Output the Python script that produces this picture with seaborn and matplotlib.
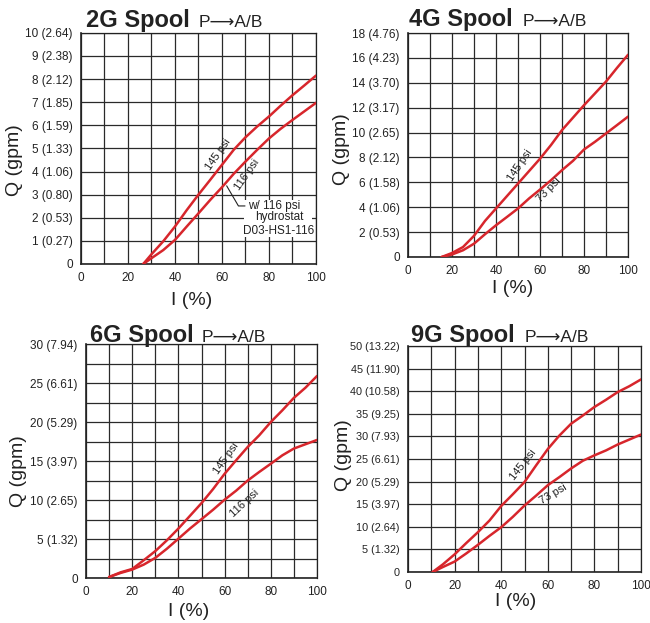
import numpy as np
import pandas as pd
import matplotlib
matplotlib.use('Agg')
import matplotlib.pyplot as plt
from matplotlib.patches import Rectangle
import seaborn as sns

sns.set_style('white')
plt.rcParams['font.family'] = ['Liberation Sans', 'DejaVu Sans']

RED = '#d7262c'
INK = '#222222'

# --- data (I in %, Q in gpm) ---
i_2g = [26.5, 30, 35, 40, 45, 50, 55, 60, 65, 70, 75, 80, 85, 90, 95, 100]
q_2g_145 = [0, 0.42, 0.98, 1.62, 2.33, 3.0, 3.64, 4.29, 4.94, 5.48, 5.95, 6.38,
            6.85, 7.3, 7.72, 8.15]
q_2g_116 = [0, 0.25, 0.6, 1.04, 1.62, 2.19, 2.77, 3.32, 3.9, 4.43, 4.94, 5.43,
            5.85, 6.23, 6.6, 6.97]

i_4g = [15.3, 20, 25, 30, 35, 40, 45, 50, 55, 60, 65, 70, 75, 80, 85, 90, 95, 100]
q_4g_145 = [0, 0.32, 0.8, 1.7, 2.9, 3.9, 4.9, 5.9, 6.9, 7.9, 9.0, 10.2, 11.2,
            12.2, 13.15, 14.1, 15.2, 16.25]
q_4g_73 = [0, 0.2, 0.54, 1.07, 1.83, 2.55, 3.22, 3.9, 4.7, 5.42, 6.17, 6.98,
           7.73, 8.64, 9.26, 9.93, 10.6, 11.28]

i_6g = [10, 15, 20, 25, 30, 35, 40, 45, 50, 55, 60, 65, 70, 75, 80, 85, 90, 95, 100]
q_6g_145 = [0.13, 0.73, 1.16, 2.28, 3.45, 4.83, 6.34, 7.97, 9.6, 11.4, 13.36,
            15.1, 16.8, 18.3, 20.0, 21.5, 23.1, 24.4, 25.9]
q_6g_116 = [0.13, 0.65, 1.08, 1.72, 2.58, 3.75, 5.04, 6.34, 7.54, 8.75, 10.04,
            11.2, 12.5, 13.6, 14.65, 15.73, 16.6, 17.15, 17.7]

i_9g = [10.6, 15, 20, 25, 30, 35, 40, 45, 50, 55, 60, 65, 70, 75, 80, 85, 90, 95, 100]
q_9g_145 = [0, 1.7, 3.9, 6.4, 8.8, 11.4, 14.6, 17.2, 19.9, 23.6, 27.2, 30.2,
            32.8, 34.6, 36.5, 38.1, 39.8, 41.1, 42.6]
q_9g_73 = [0, 1.1, 2.3, 4.1, 6.0, 8.0, 9.9, 12.2, 14.7, 16.9, 19.2, 21.0, 22.9,
           24.6, 25.8, 26.9, 28.2, 29.3, 30.4]

ticks_2g = ['0', '1 (0.27)', '2 (0.53)', '3 (0.80)', '4 (1.06)', '5 (1.33)',
            '6 (1.59)', '7 (1.85)', '8 (2.12)', '9 (2.38)', '10 (2.64)']
ticks_4g = ['0', '2 (0.53)', '4 (1.06)', '6 (1.58)', '8 (2.12)', '10 (2.65)',
            '12 (3.17)', '14 (3.70)', '16 (4.23)', '18 (4.76)']
ticks_6g = ['0', '5 (1.32)', '10 (2.65)', '15 (3.97)', '20 (5.29)',
            '25 (6.61)', '30 (7.94)']
ticks_9g = ['0', '5 (1.32)', '10 (2.64)', '15 (3.97)', '20 (5.29)', '25 (6.61)',
            '30 (7.93)', '35 (9.25)', '40 (10.58)', '45 (11.90)', '50 (13.22)']

panels = [
    dict(name='2G Spool', i=i_2g, hi=q_2g_145, lo=q_2g_116, lo_lab='116 psi',
         ymax=10, ystep=1, grid=1, yt=ticks_2g, tsize=8.5,
         pos=[0.1246, 0.5763, 0.3615, 0.371],
         hi_txt=(58.4, 4.72, 55), lo_txt=(70.5, 3.85, 55),
         ylab=(-0.245, 0.45), xlab=(0.47, -0.12),
         title=(86, 27, 199)),
    dict(name='4G Spool', i=i_4g, hi=q_4g_145, lo=q_4g_73, lo_lab='73 psi',
         ymax=18, ystep=2, grid=2, yt=ticks_4g, tsize=8.5,
         pos=[0.6277, 0.5875, 0.3385, 0.3595],
         hi_txt=(50.9, 7.4, 56), lo_txt=(63.8, 5.4, 46),
         ylab=(-0.264, 0.482), xlab=(0.475, -0.103),
         title=(409, 26, 523)),
    dict(name='6G Spool', i=i_6g, hi=q_6g_145, lo=q_6g_116, lo_lab='116 psi',
         ymax=30, ystep=5, grid=2.5, yt=ticks_6g, tsize=8.5,
         pos=[0.1323, 0.0722, 0.3554, 0.3756],
         hi_txt=(60.9, 15.3, 55), lo_txt=(68.8, 9.6, 43),
         ylab=(-0.257, 0.457), xlab=(0.446, -0.108),
         title=(90, 342, 202)),
    dict(name='9G Spool', i=i_9g, hi=q_9g_145, lo=q_9g_73, lo_lab='73 psi',
         ymax=50, ystep=5, grid=5, yt=ticks_9g, tsize=7.8,
         pos=[0.6277, 0.0819, 0.3585, 0.3628],
         hi_txt=(49.5, 23.7, 52), lo_txt=(62.4, 17.3, 31),
         ylab=(-0.242, 0.518), xlab=(0.463, -0.094),
         title=(411, 342, 525)),
]

W, H = 650, 623
fig = plt.figure(figsize=(W / 100, H / 100), dpi=100)

for p in panels:
    ax = fig.add_axes(p['pos'])
    df = pd.DataFrame({'I': p['i'], 'hi': p['hi'], 'lo': p['lo']})
    for col in ['hi', 'lo']:
        sns.lineplot(data=df, x='I', y=col, ax=ax, color=RED, lw=1.8, zorder=5)
    for ln in ax.lines:
        ln.set_solid_joinstyle('round')
        ln.set_solid_capstyle('round')

    ax.set_xlim(0, 100)
    ax.set_ylim(0, p['ymax'])
    ax.set_xticks(np.arange(0, 101, 20))
    ax.set_xticks(np.arange(0, 101, 10), minor=True)
    ax.set_yticks(np.arange(0, p['ymax'] + 0.01, p['ystep']))
    ax.set_yticks(np.arange(0, p['ymax'] + 0.01, p['grid']), minor=True)
    ax.set_yticklabels(p['yt'])
    ax.grid(True, which='both', color='#2a2a2a', lw=0.9)
    ax.tick_params(which='major', direction='out', length=4, width=0.9,
                   labelsize=8.5, colors=INK, pad=2)
    ax.tick_params(axis='y', labelsize=p['tsize'])
    ax.tick_params(which='minor', length=0)
    ax.tick_params(axis='x', which='major', length=3, pad=3)
    for s in ax.spines.values():
        s.set_color(INK)
        s.set_linewidth(0.9)
    ax.spines['left'].set_linewidth(1.2)
    ax.spines['bottom'].set_linewidth(1.2)

    ax.set_ylabel('Q (gpm)', fontsize=14, color=INK)
    ax.set_xlabel('I (%)', fontsize=14, color=INK)
    ax.yaxis.set_label_coords(*p['ylab'])
    ax.xaxis.set_label_coords(*p['xlab'])

    x, y, r = p['hi_txt']
    ax.text(x, y, '145 psi', fontsize=8, rotation=r, ha='center', va='center',
            color=INK, zorder=6)
    x, y, r = p['lo_txt']
    ax.text(x, y, p['lo_lab'], fontsize=8, rotation=r, ha='center', va='center',
            color=INK, zorder=6)

    tx, ty, tx2 = p['title']
    fig.text(tx / W, 1 - ty / H, p['name'], fontsize=17, fontweight='bold',
             ha='left', va='baseline', color=INK)
    fig.text(tx2 / W, 1 - ty / H, 'P\u27f6A/B', fontsize=12.5,
             ha='left', va='baseline', color=INK)

    if p['name'] == '2G Spool':
        # hydrostat note with its leader line
        ax.add_patch(Rectangle((69.5, 1.18), 29, 1.58, facecolor='white',
                               edgecolor='none', zorder=4))
        ax.plot([62, 67, 69.8], [3.38, 2.51, 2.51], color=INK, lw=0.8,
                zorder=7)
        ax.text(70.9, 2.51, 'w/ 116 psi', fontsize=8.5, ha='left',
                va='center', color=INK, zorder=6)
        ax.text(84.5, 2.02, 'hydrostat', fontsize=8.5, ha='center',
                va='center', color=INK, zorder=6)
        ax.text(84.0, 1.44, 'D03-HS1-116', fontsize=8.5, ha='center',
                va='center', color=INK, zorder=6)

fig.savefig('out.png', dpi=100)
